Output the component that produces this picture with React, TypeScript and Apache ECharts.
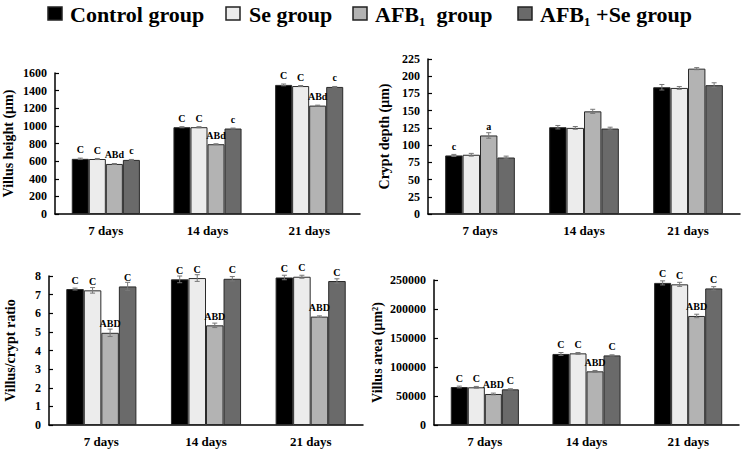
import React, { useEffect, useRef } from "react";
import * as echarts from "echarts";

const categories = ["7 days", "14 days", "21 days"];
const groupNames = ["Control group", "Se group", "AFB₁  group", "AFB₁ +Se group"];

// Panel 1: Villus height (μm)
const vhControl = [626, 985, 1465];
const vhSe = [624, 985, 1452];
const vhAfb = [568, 792, 1230];
const vhAfbSe = [614, 970, 1442];
const vhErrControl = [8, 6, 10];
const vhErrSe = [6, 6, 6];
const vhErrAfb = [5, 5, 5];
const vhErrAfbSe = [5, 5, 5];
const vhLblControl = ["C", "C", "C"];
const vhLblSe = ["C", "C", "C"];
const vhLblAfb = ["ABd", "ABd", "ABd"];
const vhLblAfbSe = ["c", "c", "c"];

// Panel 2: Crypt depth (μm)
const cdControl = [85, 126, 184];
const cdSe = [86, 125, 183];
const cdAfb = [114, 149, 211];
const cdAfbSe = [82, 124, 187];
const cdErrControl = [1.5, 2.5, 4];
const cdErrSe = [2, 2, 2];
const cdErrAfb = [4, 3, 1.5];
const cdErrAfbSe = [2, 2, 3.5];
const cdLblControl = ["c", "", ""];
const cdLblSe = ["", "", ""];
const cdLblAfb = ["a", "", ""];
const cdLblAfbSe = ["", "", ""];

// Panel 3: Villus/crypt ratio
const vcControl = [7.3, 7.82, 7.92];
const vcSe = [7.23, 7.89, 7.96];
const vcAfb = [4.95, 5.35, 5.82];
const vcAfbSe = [7.44, 7.85, 7.73];
const vcErrControl = [0.05, 0.18, 0.12];
const vcErrSe = [0.15, 0.18, 0.08];
const vcErrAfb = [0.2, 0.12, 0.04];
const vcErrAfbSe = [0.22, 0.12, 0.12];
const vcLblControl = ["C", "C", "C"];
const vcLblSe = ["C", "C", "C"];
const vcLblAfb = ["ABD", "ABD", "ABD"];
const vcLblAfbSe = ["C", "C", "C"];

// Panel 4: Villus area (μm²)
const vaControl = [65500, 122500, 245000];
const vaSe = [65000, 123500, 242500];
const vaAfb = [53500, 92500, 188000];
const vaAfbSe = [61500, 120000, 235500];
const vaErrControl = [1500, 2500, 3500];
const vaErrSe = [1500, 1500, 3500];
const vaErrAfb = [1500, 1500, 3000];
const vaErrAfbSe = [1000, 1000, 3000];
const vaLblControl = ["C", "C", "C"];
const vaLblSe = ["C", "C", "C"];
const vaLblAfb = ["ABD", "ABD", "ABD"];
const vaLblAfbSe = ["C", "C", "C"];

const FONT = "'Liberation Serif', 'Times New Roman', serif";
const fills = ["#000000", "#ececec", "#b3b3b3", "#6a6a6a"];
const GAP = 0.33;

type Panel = {
  name: string;
  max: number;
  interval: number;
  grid: { left: number; top: number; width: number; height: number };
  nameGap: number;
  values: number[][];
  errs: number[][];
  labels: string[][];
};

const panels: Panel[] = [
  {
    name: "Villus height (μm)",
    max: 1600,
    interval: 200,
    grid: { left: 54, top: 73, width: 306, height: 141 },
    nameGap: 40,
    values: [vhControl, vhSe, vhAfb, vhAfbSe],
    errs: [vhErrControl, vhErrSe, vhErrAfb, vhErrAfbSe],
    labels: [vhLblControl, vhLblSe, vhLblAfb, vhLblAfbSe],
  },
  {
    name: "Crypt depth (μm)",
    max: 225,
    interval: 25,
    grid: { left: 428, top: 59, width: 312, height: 155 },
    nameGap: 37,
    values: [cdControl, cdSe, cdAfb, cdAfbSe],
    errs: [cdErrControl, cdErrSe, cdErrAfb, cdErrAfbSe],
    labels: [cdLblControl, cdLblSe, cdLblAfb, cdLblAfbSe],
  },
  {
    name: "Villus/crypt ratio",
    max: 8,
    interval: 1,
    grid: { left: 49, top: 276, width: 314, height: 149 },
    nameGap: 32,
    values: [vcControl, vcSe, vcAfb, vcAfbSe],
    errs: [vcErrControl, vcErrSe, vcErrAfb, vcErrAfbSe],
    labels: [vcLblControl, vcLblSe, vcLblAfb, vcLblAfbSe],
  },
  {
    name: "Villus area (μm²)",
    max: 250000,
    interval: 50000,
    grid: { left: 434, top: 280, width: 305, height: 145 },
    nameGap: 50,
    values: [vaControl, vaSe, vaAfb, vaAfbSe],
    errs: [vaErrControl, vaErrSe, vaErrAfb, vaErrAfbSe],
    labels: [vaLblControl, vaLblSe, vaLblAfb, vaLblAfbSe],
  },
];

function buildOption() {
  const grid: any[] = [];
  const xAxis: any[] = [];
  const yAxis: any[] = [];
  const series: any[] = [];

  panels.forEach((p, pi) => {
    grid.push({ ...p.grid });
    xAxis.push({
      type: "category",
      gridIndex: pi,
      data: categories,
      axisLine: { lineStyle: { color: "#000", width: 1.5 } },
      axisTick: { inside: true, length: 5, lineStyle: { color: "#000", width: 1.2 } },
      axisLabel: {
        color: "#000",
        fontFamily: FONT,
        fontWeight: "bold",
        fontSize: 13,
        margin: 10,
      },
    });
    yAxis.push({
      type: "value",
      gridIndex: pi,
      min: 0,
      max: p.max,
      interval: p.interval,
      name: p.name,
      nameLocation: "middle",
      nameGap: p.nameGap,
      nameTextStyle: {
        color: "#000",
        fontFamily: FONT,
        fontWeight: "bold",
        fontSize: 14,
      },
      splitLine: { show: false },
      axisLine: { show: true, lineStyle: { color: "#000", width: 1.5 } },
      axisTick: { show: true, inside: true, length: 4, lineStyle: { color: "#000", width: 1.2 } },
      axisLabel: {
        color: "#000",
        fontFamily: FONT,
        fontWeight: "bold",
        fontSize: 12,
        margin: 8,
        formatter: (v: number) => String(v),
      },
    });

    p.values.forEach((vals, si) => {
      const lbls = p.labels[si];
      series.push({
        type: "bar",
        name: groupNames[si],
        xAxisIndex: pi,
        yAxisIndex: pi,
        data: vals,
        barGap: "0%",
        barCategoryGap: GAP * 100 + "%",
        itemStyle: {
          color: fills[si],
          borderColor: "#2a2a2a",
          borderWidth: 1,
        },
        label: {
          show: true,
          position: "top",
          distance: 4,
          color: "#000",
          fontFamily: FONT,
          fontWeight: "bold",
          fontSize: 10,
          formatter: (prm: any) => lbls[prm.dataIndex] || "",
        },
      });
    });

    p.values.forEach((vals, si) => {
      const errs = p.errs[si];
      series.push({
        type: "custom",
        xAxisIndex: pi,
        yAxisIndex: pi,
        z: 5,
        silent: true,
        data: vals.map((v, i) => [i, v, errs[i]]),
        renderItem: (params: any, api: any) => {
          const cat = api.value(0);
          const v = api.value(1);
          const e = api.value(2);
          const band = api.size([1, 0])[0];
          const groupW = band * (1 - GAP);
          const barW = groupW / 4;
          const c = api.coord([cat, v]);
          const x = c[0] - groupW / 2 + (si + 0.5) * barW;
          const yTop = api.coord([cat, v + e])[1];
          const yBot = api.coord([cat, v - e])[1];
          const cap = 2.5;
          const st = { stroke: "#777", lineWidth: 1 };
          return {
            type: "group",
            children: [
              { type: "line", shape: { x1: x, y1: yTop, x2: x, y2: yBot }, style: st },
              { type: "line", shape: { x1: x - cap, y1: yTop, x2: x + cap, y2: yTop }, style: st },
              { type: "line", shape: { x1: x - cap, y1: yBot, x2: x + cap, y2: yBot }, style: st },
            ],
          };
        },
      });
    });
  });

  const legendItems = [
    { box: 48, text: 70 },
    { box: 226, text: 249 },
    { box: 353, text: 375 },
    { box: 518, text: 540 },
  ];
  const graphic: any[] = [];
  legendItems.forEach((li, i) => {
    graphic.push({
      type: "rect",
      shape: { x: li.box, y: 7, width: 14, height: 13 },
      style: { fill: fills[i], stroke: "#222", lineWidth: 1.5 },
    });
    graphic.push({
      type: "text",
      x: li.text,
      y: 14,
      style: {
        text: groupNames[i],
        fill: "#000",
        font: `bold 22px ${FONT}`,
        verticalAlign: "middle",
        align: "left",
      },
    });
  });

  return {
    animation: false,
    backgroundColor: "#fff",
    grid,
    xAxis,
    yAxis,
    series,
    graphic,
  };
}

export default function App() {
  const ref = useRef<HTMLDivElement>(null);
  useEffect(() => {
    if (!ref.current) return;
    const chart = echarts.init(ref.current, undefined, { renderer: "svg" });
    chart.setOption(buildOption() as any);
    return () => chart.dispose();
  }, []);
  return (
    <div
      ref={ref}
      style={{ position: "fixed", left: 0, top: 0, width: 742, height: 449, background: "#fff" }}
    />
  );
}
